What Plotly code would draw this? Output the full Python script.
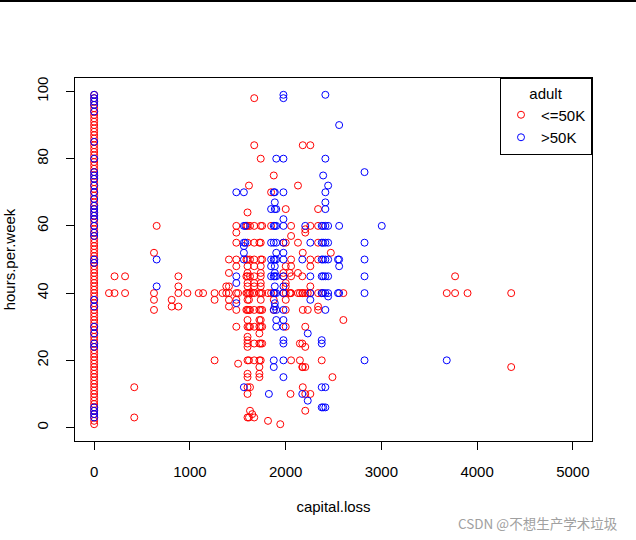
import plotly.graph_objects as go

# ---- data: capital.loss levels and hours.per.week observed at each level ----
le50k_loss = [0, 155, 213, 323, 419, 625, 653, 810, 880, 974, 1092, 1138, 1258, 1340, 1380,
              1408, 1485, 1504, 1590, 1602, 1617, 1628, 1651, 1672, 1726, 1740, 1755, 1816,
              1848, 1876, 1944, 1977, 2001, 2042, 2051, 2057, 2129, 2149, 2174, 2179, 2205,
              2231, 2258, 2339, 2377, 2472, 2489, 2603, 3683, 3770, 3900, 4356]
le50k_hours = [
    [1, 2, 3, 4, 5, 6, 7, 8, 9, 10, 11, 12, 13, 14, 15, 16, 17, 18, 19, 20, 21, 22, 23, 24, 25,
     26, 27, 28, 29, 30, 31, 32, 33, 34, 35, 36, 37, 38, 39, 40, 41, 42, 43, 44, 45, 46, 47, 48,
     49, 50, 51, 52, 53, 54, 55, 56, 57, 58, 59, 60, 61, 62, 63, 64, 65, 66, 67, 68, 69, 70, 71,
     72, 73, 74, 75, 76, 77, 78, 79, 80, 81, 82, 83, 84, 85, 86, 87, 88, 89, 90, 91, 92, 93, 94,
     95, 96, 97, 98, 99],
    [40], [40, 45], [40, 45], [3, 12], [35, 38, 40, 52], [60], [36, 38], [36, 40, 42, 45],
    [40], [40], [40], [20, 38, 40], [40], [40, 42],
    [36, 38, 40, 42, 46, 50],
    [30, 35, 38, 40, 48, 50, 55, 58, 60],
    [19, 40],
    [35, 40, 45, 50, 60],
    [3, 10, 12, 15, 16, 20, 24, 25, 26, 27, 30, 32, 35, 38, 40, 42, 43, 45, 46, 48, 50, 55, 60, 64],
    [3, 20, 30, 35, 38, 40, 72],
    [5, 12, 30, 35, 40, 45, 50, 60],
    [4, 40],
    [3, 20, 25, 30, 35, 40, 42, 43, 45, 48, 50, 55, 60, 84, 98],
    [15, 16, 18, 20, 25, 28, 30, 32, 35, 40, 55],
    [20, 25, 30, 32, 35, 38, 40, 42, 43, 45, 46, 48, 50, 55, 60, 80],
    [25, 30, 35, 40, 50, 60],
    [2, 40],
    [40, 60, 70],
    [35, 38, 40, 75],
    [1],
    [40, 45, 46, 55],
    [30, 35, 38, 40, 42, 43, 48, 55, 65],
    [40, 46],
    [10, 40],
    [20, 40, 45, 48, 50, 57, 60],
    [40, 46, 55, 72],
    [20, 25, 40],
    [18, 25, 40, 45],
    [12, 18, 35, 40, 52, 84],
    [5, 10, 18, 24, 30, 40, 58, 59],
    [35, 40],
    [10, 40, 42, 48, 50, 60, 84],
    [35, 36, 40, 50, 55, 60, 65],
    [20, 40],
    [52], [15], [32, 40], [40], [40, 45], [40], [18, 40],
]

gt50k_loss = [0, 653, 1485, 1564, 1579, 1825, 1848, 1876, 1887, 1902, 1977, 2174, 2205, 2231,
              2258, 2377, 2392, 2415, 2444, 2547, 2559, 2824, 3004, 3683]
gt50k_hours = [
    [3, 4, 5, 6, 24, 25, 28, 30, 36, 38, 49, 50, 57, 58, 60, 62, 63, 64, 65, 66, 68, 70, 72, 74,
     75, 76, 80, 85, 94, 96, 97, 98, 99],
    [42, 50],
    [37, 43, 45, 70],
    [12, 50, 52, 54, 55, 60, 70],
    [55, 60],
    [10],
    [45, 48, 50, 55, 65],
    [18, 20, 35, 40, 45, 50, 55, 60, 70],
    [36, 37, 40, 42, 45, 46, 48, 50, 60, 65, 67, 70],
    [30, 32, 35, 40, 45, 50, 52, 55, 60, 65, 80],
    [15, 20, 25, 26, 30, 32, 35, 40, 42, 45, 50, 52, 55, 60, 62, 70, 80, 98, 99],
    [10, 50],
    [60],
    [8, 28],
    [38, 40, 45, 55],
    [6, 12, 25, 26, 40, 45, 50, 55, 60],
    [6, 40, 45, 50, 55, 60, 75],
    [6, 12, 35, 40, 45, 50, 55, 60, 65, 67, 70, 80, 99],
    [39, 40, 45, 50, 55, 60, 72],
    [40, 50],
    [40, 48, 50, 60, 90],
    [20, 40, 45, 50, 55, 76],
    [60],
    [20],
]

class_names = ["<=50K", ">50K"]
class_colors = ["red", "blue"]
x_ticks = [0, 1000, 2000, 3000, 4000, 5000]
y_ticks = [0, 20, 40, 60, 80, 100]


def expand(levels, hours_lists):
    xs, ys = [], []
    for lv, hs in zip(levels, hours_lists):
        for h in hs:
            xs.append(lv)
            ys.append(h)
    return xs, ys


FONT = "Liberation Sans, Arial, sans-serif"
fig = go.Figure()
for name, color, (lv, hs) in zip(class_names, class_colors,
                                 [(le50k_loss, le50k_hours), (gt50k_loss, gt50k_hours)]):
    xs, ys = expand(lv, hs)
    fig.add_trace(go.Scatter(
        x=xs, y=ys, mode="markers", name=name,
        marker=dict(symbol="circle-open", size=7, color=color, line=dict(width=1, color=color)),
    ))

axis_common = dict(
    showgrid=False, zeroline=False, showline=True, linecolor="black", linewidth=1,
    mirror=True, ticks="outside", ticklen=8, tickwidth=1, tickcolor="black",
    automargin=False,
    tickfont=dict(family=FONT, size=15, color="black"),
)
fig.update_xaxes(range=[-200, 5200], tickvals=x_ticks, ticklabelstandoff=9,
                 title=dict(text="capital.loss", font=dict(family=FONT, size=15, color="black"),
                            standoff=22),
                 **axis_common)
fig.update_yaxes(range=[-4, 104], tickvals=y_ticks, tickangle=-90, ticklabelstandoff=12,
                 title=dict(text="hours.per.week", font=dict(family=FONT, size=15, color="black"),
                            standoff=14),
                 **axis_common)

fig.update_layout(
    width=636, height=540,
    margin=dict(l=75, r=44, t=78, b=99, autoexpand=False),
    paper_bgcolor="white", plot_bgcolor="white",
    showlegend=True,
    legend=dict(
        x=1, y=1, xanchor="right", yanchor="top",
        bordercolor="black", borderwidth=1, bgcolor="white",
        title=dict(text="adult", side="top center", font=dict(family=FONT, size=15, color="black")),
        font=dict(family=FONT, size=15, color="black"),
        itemwidth=30, tracegroupgap=0,
    ),
    shapes=[dict(type="line", xref="paper", yref="paper",
                 x0=-0.146, x1=1.086, y0=1.2118, y1=1.2118,
                 line=dict(color="black", width=2))],
    annotations=[dict(text="CSDN @不想生产学术垃圾", xref="paper", yref="paper",
                      x=1.0542, y=-0.225, xanchor="right", yanchor="middle", showarrow=False,
                      font=dict(family="Noto Sans CJK SC, sans-serif", size=13.5, color="#a0a0a0"))],
)

fig.write_html("out.html", config={"displayModeBar": False},
               post_script="document.body.style.margin='0';")
